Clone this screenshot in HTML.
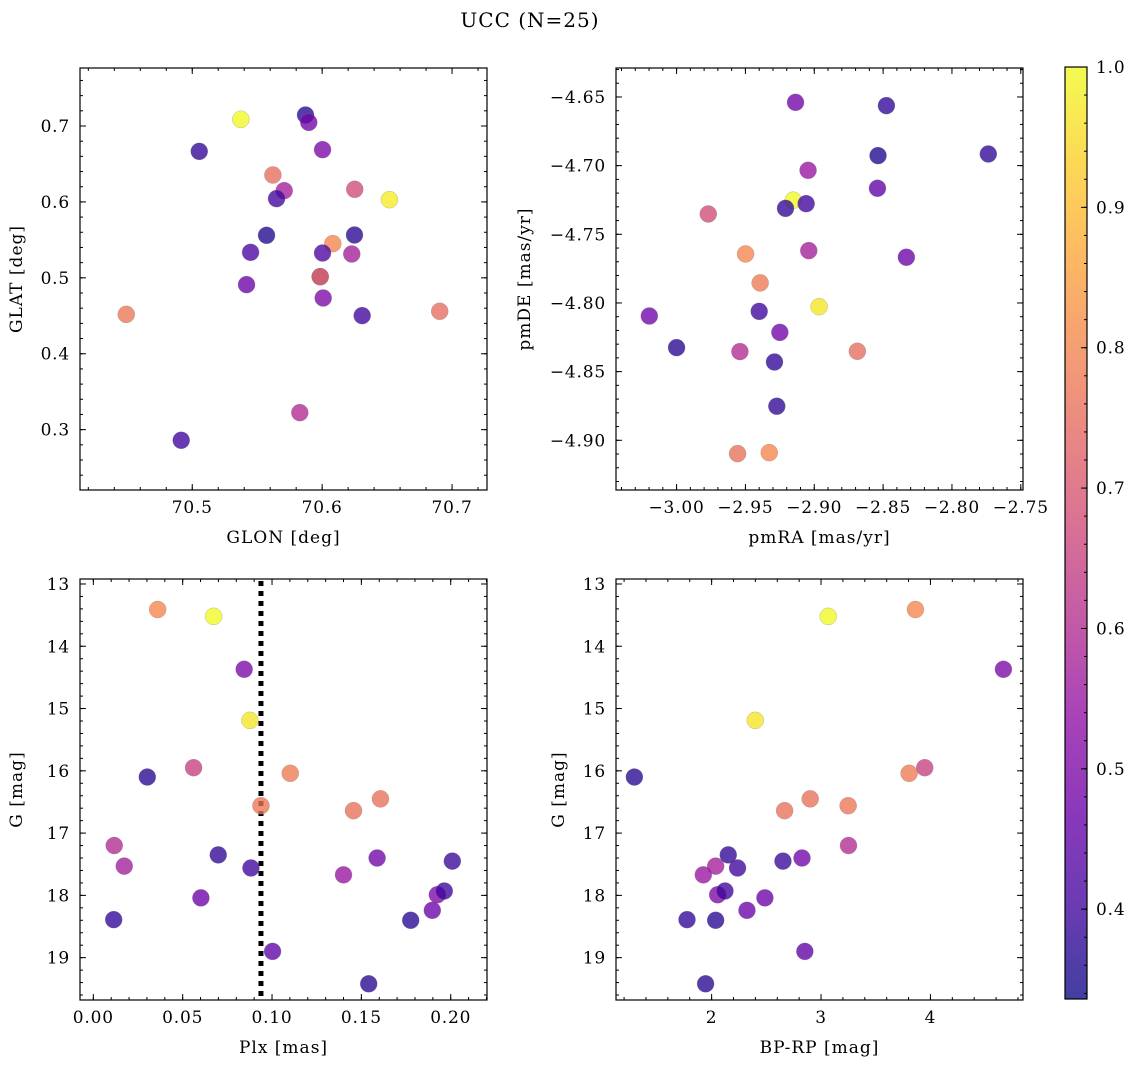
<!DOCTYPE html>
<html><head><meta charset="utf-8"><style>
body{margin:0;background:#fff;}
svg, svg text{font-family:"DejaVu Serif","Liberation Serif",serif;}
</style></head><body>
<svg id="fig" width="1136" height="1067" xmlns="http://www.w3.org/2000/svg">
<text x="530" y="27" font-size="20" letter-spacing="1" text-anchor="middle">UCC (N=25)</text>
</svg>
<script>
// Panel 1: GLON vs GLAT
const glon1=[70.5374,70.5872,70.5897,70.5054,70.6003,70.5621,70.5708,70.5649,70.6251,70.6518,70.5572,70.6249,70.6082,70.5449,70.6003,70.6228,70.5985,70.5985,70.5418,70.6008,70.6308,70.4492,70.6905,70.5828,70.4915];
const glat1=[0.7088,0.7145,0.7048,0.6666,0.6688,0.6355,0.6148,0.6043,0.6166,0.6030,0.5560,0.5564,0.5450,0.5336,0.5327,0.5314,0.5015,0.5015,0.4910,0.4734,0.4502,0.4519,0.4559,0.3224,0.2860];
const prob1=[1.0,0.37,0.48,0.38,0.5,0.75,0.57,0.4,0.68,0.98,0.36,0.37,0.8,0.42,0.42,0.57,0.45,0.75,0.47,0.5,0.4,0.77,0.75,0.6,0.4];
// Panel 2: pmRA vs pmDE
const pmra2=[-2.9136,-2.8476,-2.8537,-2.7736,-2.9045,-2.8541,-2.9153,-2.9209,-2.9059,-2.9770,-2.9499,-2.9040,-2.8331,-2.9393,-2.8965,-3.0198,-2.9400,-2.9250,-3.0000,-2.9540,-2.8687,-2.9289,-2.9272,-2.9557,-2.9327];
const pmde2=[-4.6539,-4.6563,-4.6927,-4.6915,-4.7034,-4.7165,-4.7252,-4.7311,-4.7277,-4.7352,-4.7643,-4.7619,-4.7667,-4.7854,-4.8027,-4.8095,-4.8061,-4.8214,-4.8325,-4.8354,-4.8352,-4.8430,-4.8752,-4.9097,-4.9090];
const prob2=[0.48,0.38,0.36,0.38,0.55,0.45,1.0,0.38,0.4,0.68,0.8,0.57,0.47,0.78,0.97,0.48,0.4,0.48,0.37,0.6,0.75,0.38,0.38,0.76,0.8];
// Panels 3 & 4: Plx, BP-RP vs G
const plx=[0.0360,0.0673,0.0844,0.0876,0.0302,0.0561,0.1102,0.0938,0.1456,0.1607,0.0117,0.0173,0.0699,0.0882,0.0602,0.1400,0.1588,0.2009,0.0114,0.1776,0.1897,0.1925,0.1964,0.1003,0.1541];
const gmag=[13.41,13.52,14.37,15.19,16.10,15.95,16.04,16.56,16.64,16.45,17.20,17.53,17.35,17.56,18.04,17.67,17.40,17.45,18.39,18.40,18.24,17.99,17.93,18.90,19.42];
const bprp=[3.863,3.066,4.667,2.399,1.294,3.948,3.805,3.248,2.667,2.901,3.251,2.037,2.152,2.237,2.487,1.924,2.826,2.652,1.775,2.037,2.323,2.055,2.122,2.852,1.945];
const prob34=[0.8,1.0,0.5,0.97,0.37,0.65,0.78,0.77,0.76,0.76,0.6,0.57,0.38,0.4,0.47,0.55,0.48,0.39,0.38,0.37,0.47,0.5,0.4,0.45,0.37];
const plxLine=[0.0938];
const cbMin=0.336, cbMax=1.0;

const NS="http://www.w3.org/2000/svg";
const svg=document.getElementById('fig');
function mk(tag,attrs,parent){const e=document.createElementNS(NS,tag);for(const k in attrs)e.setAttribute(k,attrs[k]);(parent||svg).appendChild(e);return e;}
const stops=[[13,8,135],[65,4,157],[106,0,168],[143,13,164],[177,42,144],[204,71,120],[225,100,98],[242,132,75],[252,166,54],[252,206,37],[240,249,33]];
function plasma(t){t=Math.max(0,Math.min(1,t))*10;const i=Math.min(9,Math.floor(t)),f=t-i;const a=stops[i],b=stops[i+1];return `rgb(${Math.round(a[0]+(b[0]-a[0])*f)},${Math.round(a[1]+(b[1]-a[1])*f)},${Math.round(a[2]+(b[2]-a[2])*f)})`;}
function fmt(v,d){let s=v.toFixed(d);return s.replace('-','\u2212');}
const TFS=17, TLS=0.8, LFS=17, LLS=1;

function panel(o){
  const g=mk('g',{});
  
  
  const X=v=>o.L+(v-o.x0)/(o.x1-o.x0)*(o.R-o.L);
  const Y=v=>o.T+(v-o.y0)/(o.y1-o.y0)*(o.B-o.T);
  const tg=mk('g',{stroke:'#000','stroke-width':1},g);
  function ticks(a0,a1,step,fn){const out=[];let s=Math.ceil(Math.min(a0,a1)/step-1e-6)*step;for(let v=s;v<=Math.max(a0,a1)+1e-9;v+=step)out.push(+v.toFixed(6));out.forEach(fn);}
  ticks(o.x0,o.x1,o.xmin,v=>{const x=X(v);mk('line',{x1:x,x2:x,y1:o.B,y2:o.B-3},tg);mk('line',{x1:x,x2:x,y1:o.T,y2:o.T+3},tg);});
  ticks(o.y0,o.y1,o.ymin,v=>{const y=Y(v);mk('line',{x1:o.L,x2:o.L+3,y1:y,y2:y},tg);mk('line',{x1:o.R,x2:o.R-3,y1:y,y2:y},tg);});
  ticks(o.x0,o.x1,o.xmaj,v=>{const x=X(v);mk('line',{x1:x,x2:x,y1:o.B,y2:o.B-6},tg);mk('line',{x1:x,x2:x,y1:o.T,y2:o.T+6},tg);
    const t=mk('text',{x:x,y:o.B+23,'font-size':TFS,'letter-spacing':TLS,'text-anchor':'middle'},g);t.textContent=fmt(v,o.xd);
    
    });
  ticks(o.y0,o.y1,o.ymaj,v=>{const y=Y(v);mk('line',{x1:o.L,x2:o.L+6,y1:y,y2:y},tg);mk('line',{x1:o.R,x2:o.R-6,y1:y,y2:y},tg);
    const t=mk('text',{x:o.L-10,y:y+6,'font-size':TFS,'letter-spacing':TLS,'text-anchor':'end'},g);t.textContent=fmt(v,o.yd);
    
    });
  if(o.vline){o.vline.forEach(v=>{const l=mk('line',{x1:X(v),x2:X(v),y1:o.T+2,y2:o.B,stroke:'#000','stroke-width':5,'stroke-dasharray':'5 5'},g);
    
    });}
  for(let i=0;i<o.xs.length;i++){
    const c=mk('circle',{cx:X(o.xs[i]),cy:Y(o.ys[i]),r:8.5,fill:plasma((o.p[i]-cbMin)/(cbMax-cbMin)),'fill-opacity':0.78,stroke:'#777','stroke-width':0.4,'stroke-opacity':0.6},g);
    
    
  }
  const fr=mk('rect',{x:o.L,y:o.T,width:o.R-o.L,height:o.B-o.T,fill:'none',stroke:'#000','stroke-width':1.2},g);
  
  
  const xl=mk('text',{x:(o.L+o.R)/2,y:o.B+53,'font-size':LFS,'letter-spacing':LLS,'text-anchor':'middle'},g);xl.textContent=o.xlab;
  
  
  const yx=o.L-o.ylo, yy=(o.T+o.B)/2;
  const yl=mk('text',{x:yx,y:yy,'font-size':LFS,'letter-spacing':LLS,'text-anchor':'middle',transform:`rotate(-90 ${yx} ${yy})`},g);yl.textContent=o.ylab;
  
  
}
panel({name:'glon-glat-panel',L:80,R:487,T:68,B:490,x0:70.4136,x1:70.7269,y0:0.7764,y1:0.2205,xmaj:0.1,xmin:0.02,ymaj:0.1,ymin:0.02,xd:1,yd:1,xs:glon1,ys:glat1,p:prob1,xlab:'GLON [deg]',ylab:'GLAT [deg]',ylo:58});
panel({name:'pm-panel',L:616,R:1023,T:68,B:490,x0:-3.044,x1:-2.7484,y0:-4.6289,y1:-4.9362,xmaj:0.05,xmin:0.01,ymaj:0.05,ymin:0.01,xd:2,yd:2,xs:pmra2,ys:pmde2,p:prob2,xlab:'pmRA [mas/yr]',ylab:'pmDE [mas/yr]',ylo:86});
panel({name:'plx-g-panel',L:80,R:487,T:579,B:1000,x0:-0.00746,x1:0.2203,y0:12.92,y1:19.68,xmaj:0.05,xmin:0.01,ymaj:1,ymin:0.2,xd:2,yd:0,xs:plx,ys:gmag,p:prob34,xlab:'Plx [mas]',ylab:'G [mag]',ylo:58,vline:plxLine});
panel({name:'cmd-panel',L:616,R:1023,T:579,B:1000,x0:1.126,x1:4.846,y0:12.92,y1:19.68,xmaj:1,xmin:0.2,ymaj:1,ymin:0.2,xd:0,yd:0,xs:bprp,ys:gmag,p:prob34,xlab:'BP-RP [mag]',ylab:'G [mag]',ylo:52});

// colorbar
const cbT=67,cbB=999,cbL=1065,cbR=1087;
const defs=mk('defs',{});
const lg=mk('linearGradient',{id:'cbg',x1:0,y1:1,x2:0,y2:0},defs);
for(let i=0;i<=20;i++){mk('stop',{offset:i/20,'stop-color':plasma(i/20),'stop-opacity':0.78},lg);}
const cb=mk('g',{});


mk('rect',{x:cbL,y:cbT,width:cbR-cbL,height:cbB-cbT,fill:'url(#cbg)',stroke:'#000','stroke-width':1.2},cb);
const CY=v=>cbB-(v-cbMin)/(cbMax-cbMin)*(cbB-cbT);
for(let k=17;k<=50;k++){const v=k*0.02;if(v<cbMin-1e-9)continue;const y=CY(v);mk('line',{x1:cbR,x2:cbR-3,y1:y,y2:y,stroke:'#000'},cb);}
for(let k=4;k<=10;k++){const v=k/10,y=CY(v);mk('line',{x1:cbR,x2:cbR-6,y1:y,y2:y,stroke:'#000'},cb);
  const t=mk('text',{x:cbR+9,y:y+6,'font-size':TFS,'letter-spacing':TLS},cb);t.textContent=v.toFixed(1);
  
  }
</script>
</body></html>
